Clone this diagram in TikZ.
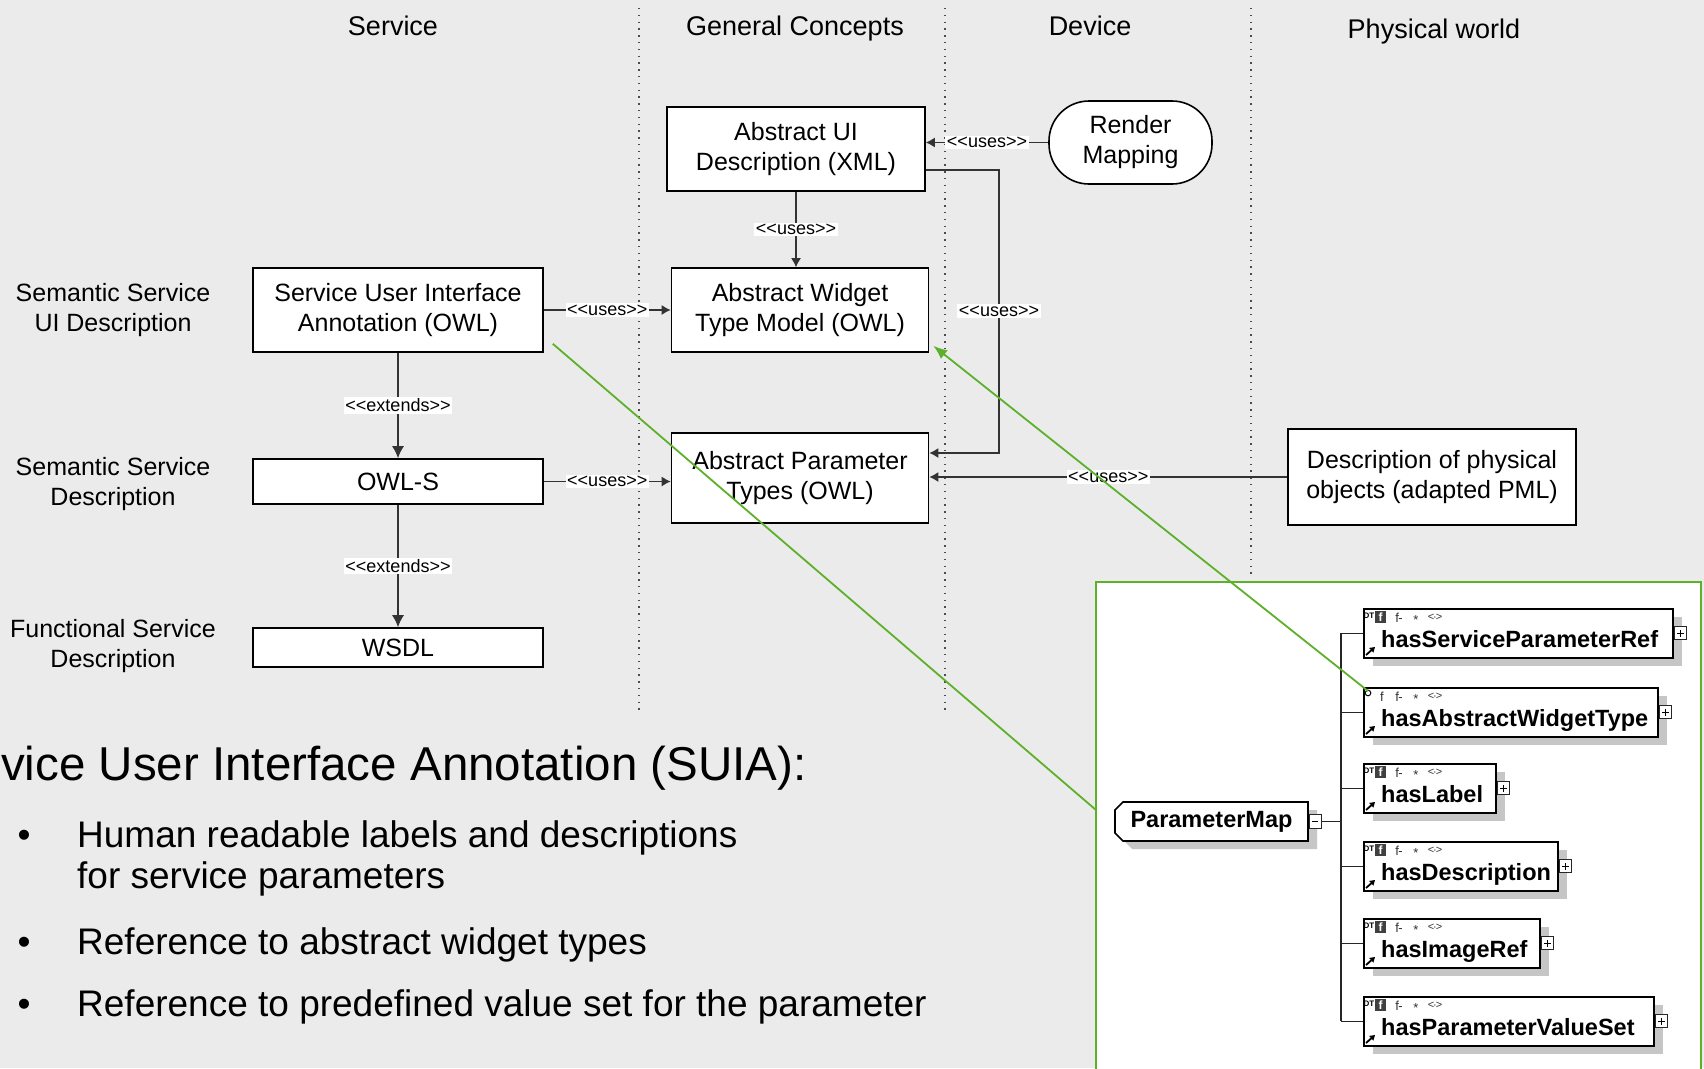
\documentclass[tikz,border=0pt]{standalone}
\usepackage{fontspec}
\setmainfont{Liberation Sans}
\usetikzlibrary{arrows.meta,shadows}
\definecolor{bggray}{RGB}{235,235,235}
\definecolor{xsdgreen}{RGB}{92,176,42}
\definecolor{shadegray}{RGB}{198,198,198}
\newcommand{\stereo}[1]{\textless\kern0pt\textless#1\textgreater\kern0pt\textgreater}

\begin{document}
\begin{tikzpicture}[x=1pt,y=-1pt,
		box/.style={draw, fill=white, line width=1.6pt, align=center, inner sep=0pt, font=\fontsize{25}{30}\selectfont},
		lbl/.style={fill=white, inner sep=1.5pt, font=\fontsize{18}{18}\selectfont},
		uses/.style={draw=black!80, line width=1.3pt, -{Latex[length=9pt,width=10pt]}},
		extends/.style={uses, -{Latex[length=12pt,width=12pt]}},
		lane/.style={draw=black!70, line width=1.3pt, dash pattern=on 1.3pt off 5.5pt},
		header/.style={anchor=base, inner sep=0pt, font=\fontsize{27}{32}\selectfont},
		side/.style={align=center, inner sep=0pt, font=\fontsize{25}{30}\selectfont},
		dropped/.style={drop shadow={shadow xshift=9pt, shadow yshift=-8pt, fill=shadegray, opacity=1}},
		leaf/.style={draw, fill=white, line width=1.6pt, anchor=north west, minimum height=49, inner sep=0pt, dropped},
		leafname/.style={anchor=base west, inner sep=0pt, font=\bfseries\fontsize{23.5}{28}\selectfont},
		icon/.style={inner sep=0pt, text=black!80, font=\fontsize{13}{13}\selectfont},
		dt/.style={inner sep=0pt, font=\bfseries\fontsize{8}{8}\selectfont},
		tree/.style={draw=black!85, line width=1.6pt},
		pm/.style={draw=black!85, line width=1.1pt, fill=white},
		link/.style={draw=xsdgreen, line width=1.8pt},
		item/.style={anchor=base west, inner sep=0pt, font=\fontsize{37}{40}\selectfont}]
		\useasboundingbox (0,0) rectangle (1704,1068);
		\fill[bggray] (0,0) rectangle (1704,1068);
		%
		\draw[lane] (639,8) -- (639,713);
		\draw[lane] (945,8) -- (945,713);
		\draw[lane] (1251,8) -- (1251,574);
		\node[header] (hService) at (393,35) {Service};
		\node[header] (hGeneral) at (795,35) {General Concepts};
		\node[header] (hDevice) at (1090,35) {Device};
		\node[header] (hPhysical) at (1434,38) {Physical world};
		%
		\node[side] (sSui) at (113,310) {Semantic Service\\UI Description};
		\node[side] (sSem) at (113,484) {Semantic Service\\Description};
		\node[side] (sFun) at (113,646) {Functional Service\\Description};
		%
		\node[box, minimum width=258, minimum height=84] (aui) at (796,149) {Abstract UI\\Description (XML)};
		\node[box, minimum width=257, minimum height=84] (awt) at (800,310) {Abstract Widget\\Type Model (OWL)};
		\node[box, minimum width=257, minimum height=90] (apt) at (800,478) {Abstract Parameter\\Types (OWL)};
		\node[box, rounded corners=40pt, minimum width=163, minimum height=83] (render) at (1130.5,142.5) {Render\\Mapping};
		\node[box, minimum width=290, minimum height=84] (suia) at (398,310) {Service User Interface\\Annotation (OWL)};
		\node[box, minimum width=290, minimum height=45] (owls) at (398,481.5) {OWL-S};
		\node[box, minimum width=290, minimum height=39] (wsdl) at (398,647.5) {WSDL};
		\node[box, minimum width=288, minimum height=96] (phys) at (1432,477) {Description of physical\\objects (adapted PML)};
		%
		\draw[uses] (suia) -- node[lbl]{\stereo{uses}} (awt);
		\draw[uses] (owls.east) -- node[lbl]{\stereo{uses}} (owls.east -| apt.west);
		\draw[uses] (aui) -- node[lbl]{\stereo{uses}} (aui.south |- awt.north);
		\draw[uses] (render.west) -- node[lbl]{\stereo{uses}} (render.west -| aui.east);
		\draw[uses] (phys.west) -- node[lbl]{\stereo{uses}} (phys.west -| apt.east);
		\draw[extends] (suia) -- node[lbl]{\stereo{extends}} (owls);
		\draw[extends] (owls) -- node[lbl]{\stereo{extends}} (wsdl);
		\coordinate (bend) at (999,311);
		\draw[uses] ([yshift=-21pt]aui.east) -| (bend) node[lbl]{\stereo{uses}} |- ([yshift=25pt]apt.east);
		%
		% schema view of the parameter map
		\draw[link, fill=white] (1096,1075) -- (1096,582) -- (1701,582) -- (1701,1075);
		\path[draw, fill=white, line width=1.6pt, dropped] (1123,802) -- (1308,802) -- (1308,841) -- (1123,841) -- (1115,833) -- (1115,810) -- cycle;
		\node[inner sep=0pt, minimum width=193, minimum height=39, font=\bfseries\fontsize{23.5}{28}\selectfont] (pmap) at (1211.5,821.5) {ParameterMap};
		\draw[pm] ([xshift=1pt,yshift=7pt]pmap.east) rectangle ++(12,14);
		\draw[line width=1.1pt] ([xshift=4pt]pmap.east) -- ++(6,0);
		\coordinate (spine) at (1341,821.5);
		\draw[tree] ([xshift=13pt]pmap.east) -- (spine);
		\foreach \ty/\bw/\lab/\k in {608/309/hasServiceParameterRef/1, 687/294/hasAbstractWidgetType/2, 763/132/hasLabel/3, 841/194/hasDescription/4, 918/176/hasImageRef/5, 996/290/hasParameterValueSet/6}{
			\node[leaf, minimum width=\bw] (c\k) at (1363,\ty) {};
			\node[leafname] (c\k-name) at (1381,\ty+39) {\lab};
			\ifnum\k=2
			\draw[line width=1pt] (1368,\ty+6) circle[radius=2.8pt];
			\node[icon] (c\k-f) at (1382,\ty+10) {f};
			\else
			\node[dt] (c\k-dt) at (1369,\ty+8) {DT};
			\fill[black!75] (1375,\ty+3) rectangle (1386,\ty+15);
			\node[icon, text=white, font=\bfseries\fontsize{12}{12}\selectfont] (c\k-f) at (1380.5,\ty+9.5) {f};
			\fi
			\node[icon] (c\k-fm) at (1399,\ty+10) {f\kern-0.5pt-};
			\node[icon] (c\k-st) at (1416,\ty+12) {*};
			\node[icon, font=\fontsize{11}{11}\selectfont] (c\k-ch) at (1435,\ty+9) {<\kern-1pt·\kern-1pt>};
			\draw[line width=1.8pt, -{Triangle[length=5pt,width=6pt]}] (1366,\ty+47) -- (1375,\ty+39);
			\draw[tree] (c\k.west) -- ++(-22,0);
			\draw[pm] ([xshift=1pt,yshift=6.5pt]c\k.east) rectangle ++(12,13);
			\draw[line width=1.1pt] ([xshift=3.5pt]c\k.east) -- ++(7,0) ([xshift=7pt,yshift=3.5pt]c\k.east) -- ++(0,7);
		}
		\draw[tree] ([xshift=-22pt]c1.west) -- ([xshift=-22pt]c6.west);
		%
		\node[anchor=base west, inner sep=0pt, font=\fontsize{47.5}{58}\selectfont] (title) at (1,780) {vice User Interface Annotation (SUIA):};
		\node[item, anchor=base] (dot1) at (24,847) {•};
		\node[item] (item1) at (77,847) {Human readable labels and descriptions};
		\node[item] (item1b) at (77,888) {for service parameters};
		\node[item, anchor=base] (dot2) at (24,954) {•};
		\node[item] (item2) at (77,954) {Reference to abstract widget types};
		\node[item, anchor=base] (dot3) at (24,1016) {•};
		\node[item] (item3) at (77,1016) {Reference to predefined value set for the parameter};
		%
		\coordinate (pmapIn) at (1096,810);
		\draw[link] ([xshift=9pt,yshift=9pt]suia.south east) -- (pmapIn);
		\draw[link, -{Latex[length=14pt,width=11pt]}] ([xshift=5pt,yshift=-4pt]c2.north west) -- ([xshift=4pt,yshift=7pt]awt.south east);
\end{tikzpicture}
\end{document}
